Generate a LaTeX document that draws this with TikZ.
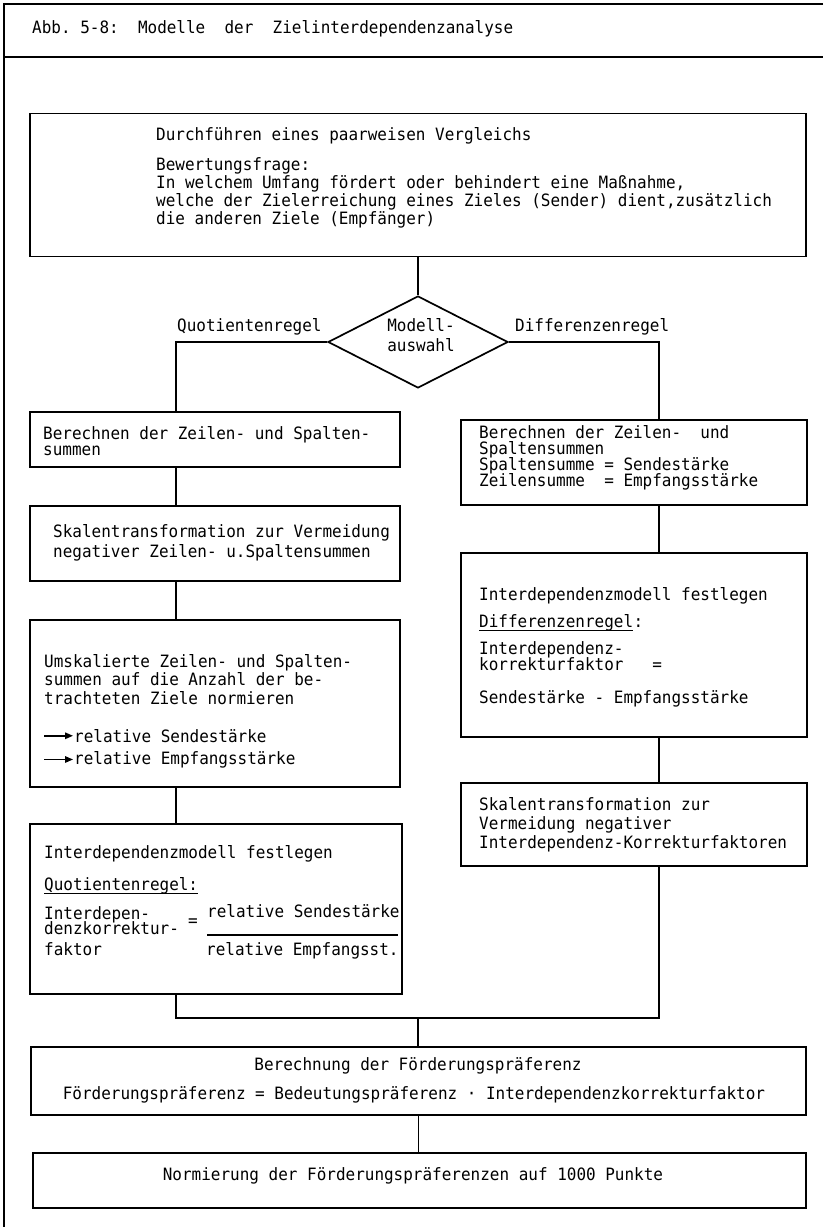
\documentclass[tikz,border=0pt]{standalone}
\usepackage{fontspec}
\newfontfamily\mono[FakeStretch=0.94]{DejaVu Sans Mono}
\usetikzlibrary{shapes.geometric,arrows.meta}
\begin{document}
\begin{tikzpicture}[x=1pt,y=-1pt,
  box/.style={draw, line width=1.7pt, rectangle, inner sep=0pt},
  txt/.style={font=\mono\frenchspacing\fontsize{17}{17}\selectfont, inner sep=0pt, anchor=mid west},
  ctxt/.style={font=\mono\frenchspacing\fontsize{17}{17}\selectfont, inner sep=0pt, anchor=mid},
  conn/.style={line width=1.5pt},
  framel/.style={line width=2.2pt},
  glyph/.style={line width=1.5pt, -{Triangle[length=8pt,width=6.5pt]}}]
\useasboundingbox (0,0) rectangle (823,1227);
% outer frame
\draw[framel] (823,4) -- (4,4) -- (4,1227);
\draw[line width=2.6pt] (4,57) -- (823,57);
\node[txt] (title) at (32,31) {Abb.~5-8:~~Modelle~~der~~Zielinterdependenzanalyse};

% column coordinates
\coordinate (colL) at (176,0);
\coordinate (colR) at (659,0);
\coordinate (join) at (418,1018);

% boxes
\node[box, minimum width=776pt, minimum height=143pt] (top) at (418,185) {};
\node[draw, diamond, line width=1.7pt, minimum width=180pt, minimum height=92pt, inner sep=0pt] (dia) at (418,342) {};
\node[box, minimum width=370pt, minimum height=55pt] (lb1) at (215,439.5) {};
\node[box, minimum width=370pt, minimum height=75pt] (lb2) at (215,543.5) {};
\node[box, minimum width=370pt, minimum height=167pt] (lb3) at (215,703.5) {};
\node[box, minimum width=372pt, minimum height=170pt] (lb4) at (216,909) {};
\node[box, minimum width=346pt, minimum height=85pt] (rb1) at (634,462.5) {};
\node[box, minimum width=346pt, minimum height=184pt] (rb2) at (634,645) {};
\node[box, minimum width=346pt, minimum height=83pt] (rb3) at (634,824.5) {};
\node[box, minimum width=775pt, minimum height=68pt] (bf) at (418.5,1081) {};
\node[box, minimum width=773pt, minimum height=55pt] (nm) at (419.5,1180.5) {};

% top box text
\node[txt] (t1) at (156,138) {Durchführen eines paarweisen Vergleichs};
\node[txt] (t2) at (156,168) {Bewertungsfrage:};
\node[txt] (t3) at (156,186) {In welchem Umfang fördert oder behindert eine Maßnahme,};
\node[txt] (t4) at (156,204) {welche der Zielerreichung eines Zieles (Sender) dient,zusätzlich};
\node[txt] (t5) at (156,222) {die anderen Ziele (Empfänger)};

% diamond labels
\node[ctxt] (m1) at (421,329) {Modell-};
\node[ctxt] (m2) at (421,349) {auswahl};
\node[txt] (ql) at (177,329) {Quotientenregel};
\node[txt] (dl) at (515,329) {Differenzenregel};

% left column texts
\node[txt] (a1) at (43,437) {Berechnen der Zeilen- und Spalten-};
\node[txt] (a2) at (43,453) {summen};
\node[txt] (b1) at (53,535) {Skalentransformation zur Vermeidung};
\node[txt] (b2) at (53,555) {negativer Zeilen- u.Spaltensummen};
\node[txt] (c1) at (44,665) {Umskalierte Zeilen- und Spalten-};
\node[txt] (c2) at (44,683) {summen auf die Anzahl der be-};
\node[txt] (c3) at (44,702) {trachteten Ziele normieren};
\node[txt] (c4) at (74,740) {relative Sendestärke};
\node[txt] (c5) at (74,762) {relative Empfangsstärke};
\draw[glyph] ([xshift=-30pt]c4.west) -- ([xshift=-1pt]c4.west);
\draw[glyph] ([xshift=-30pt]c5.west) -- ([xshift=-1pt]c5.west);
\node[txt] (d1) at (44,856) {Interdependenzmodell festlegen};
\node[txt] (d2) at (44,888) {Quotientenregel:};
\draw[line width=1.2pt] ([yshift=-3pt]d2.base west) -- ([yshift=-3pt]d2.base east);
\node[txt] (d3) at (44,917) {Interdepen-};
\node[txt] (d4) at (44,932) {denzkorrektur-};
\node[txt] (d5) at (44,953) {faktor};
\node[ctxt] (deq) at (193,924) {=};
\node[txt] (num) at (207,915) {relative Sendestärke};
\node[txt] (den) at (206,953) {relative Empfangsst.};
\draw[line width=1.2pt] (207,935) -- (398,935);

% right column texts
\node[txt] (e1) at (479,436) {Berechnen der Zeilen-~~und};
\node[txt] (e2) at (479,452) {Spaltensummen};
\node[txt] (e3) at (479,468) {Spaltensumme = Sendestärke};
\node[txt] (e4) at (479,484) {Zeilensumme~~= Empfangsstärke};
\node[txt] (f1) at (479,598) {Interdependenzmodell festlegen};
\node[txt] (f2) at (479,625) {Differenzenregel};
\node[txt, anchor=base west] (f2b) at (f2.base east) {:};
\draw[line width=1.2pt] ([yshift=-3pt]f2.base west) -- ([yshift=-3pt]f2.base east);
\node[txt] (f3) at (479,652) {Interdependenz-};
\node[txt] (f4) at (479,668) {korrekturfaktor~~~=};
\node[txt] (f5) at (479,701) {Sendestärke - Empfangsstärke};
\node[txt] (g1) at (479,808) {Skalentransformation zur};
\node[txt] (g2) at (479,827) {Vermeidung negativer};
\node[txt] (g3) at (479,846) {Interdependenz-Korrekturfaktoren};

% bottom texts
\node[ctxt] (h1) at (418,1068) {Berechnung der Förderungspräferenz};
\node[ctxt] (h2) at (414,1097) {Förderungspräferenz = Bedeutungspräferenz · Interdependenzkorrekturfaktor};
\node[ctxt] (n1) at (413,1178) {Normierung der Förderungspräferenzen auf 1000 Punkte};

% connectors
\draw[conn] (top.south) -- (dia.north);
\draw[conn] (dia.west) -| (colL |- lb1.north);
\draw[conn] (dia.east) -| (colR |- rb1.north);
\draw[conn] (colL |- lb1.south) -- (colL |- lb2.north);
\draw[conn] (colL |- lb2.south) -- (colL |- lb3.north);
\draw[conn] (colL |- lb3.south) -- (colL |- lb4.north);
\draw[conn] (colR |- rb1.south) -- (colR |- rb2.north);
\draw[conn] (colR |- rb2.south) -- (colR |- rb3.north);
\draw[conn] (colL |- lb4.south) -- (colL |- join) -- (colR |- join) -- (colR |- rb3.south);
\draw[conn] (join) -- (join |- bf.north);
\draw[conn] (bf.south) -- (bf.south |- nm.north);
\end{tikzpicture}
\end{document}
